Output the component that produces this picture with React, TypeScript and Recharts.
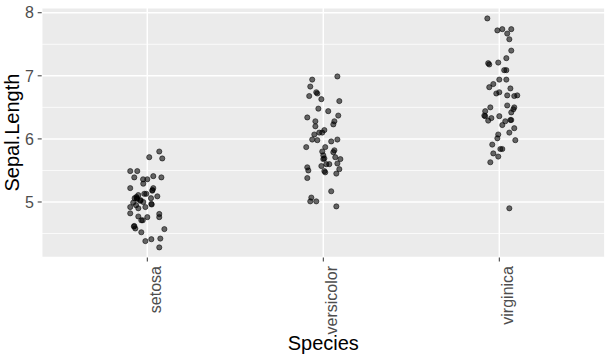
import { ScatterChart, Scatter, XAxis, YAxis, CartesianGrid, ReferenceLine, Label } from "recharts";

const species = ["setosa", "versicolor", "virginica"];
const yTicks = [5, 6, 7, 8];
const yMinor = [4.5, 5.5, 6.5, 7.5];

// horizontal jitter (fraction of a category) and Sepal.Length
const setosaJitter = [
  0.068, 0.011, 0.085, -0.097, -0.057, -0.074, 0.034, 0.08, -0.024, 0.0,
  -0.023, -0.097, 0.034, 0.028, -0.017, -0.006, -0.051, 0.057, -0.072, -0.06,
  -0.038, 0.021, -0.08, -0.023, 0.023, -0.064, -0.097, -0.051, -0.011, -0.097,
  0.068, 0.068, -0.051, 0.0, -0.034, -0.026, -0.076, -0.068, 0.097, -0.034,
  0.074, 0.023, -0.011, 0.068, -0.057, -0.074, 0.025, -0.04, -0.062, 0.03,
];
const setosaLength = [
  5.8, 5.71, 5.69, 5.49, 5.49, 5.39, 5.41, 5.39, 5.36, 5.36,
  5.29, 5.22, 5.22, 5.18, 5.13, 5.13, 5.11, 5.09, 5.06, 5.06,
  5.03, 5.06, 4.99, 5.0, 4.97, 4.95, 4.92, 4.9, 4.92, 4.82,
  4.81, 4.76, 4.77, 4.76, 4.71, 4.71, 4.61, 4.58, 4.57, 4.52,
  4.42, 4.41, 4.38, 4.28, 5.05, 4.62, 4.96, 5.02, 5.08, 5.19,
];

const versicolorJitter = [
  0.08, -0.063, -0.074, -0.04, -0.034, -0.08, -0.011, 0.091, -0.028, 0.028,
  0.085, -0.091, -0.045, 0.063, 0.057, -0.045, 0.006, -0.006, -0.023, -0.051,
  -0.063, -0.034, 0.045, 0.08, -0.097, 0.011, -0.006, 0.063, 0.057, 0.0,
  0.068, 0.006, 0.0, 0.097, 0.08, 0.017, 0.034, -0.011, -0.091, -0.085,
  0.091, 0.006, 0.011, 0.074, -0.091, 0.045, -0.068, -0.074, -0.04, 0.074,
];
const versicolorLength = [
  6.99, 6.94, 6.83, 6.74, 6.72, 6.68, 6.63, 6.6, 6.48, 6.44,
  6.37, 6.34, 6.28, 6.28, 6.23, 6.2, 6.14, 6.1, 6.1, 6.07,
  5.99, 5.98, 5.96, 5.99, 5.87, 5.87, 5.8, 5.82, 5.79, 5.74,
  5.71, 5.69, 5.68, 5.68, 5.61, 5.6, 5.6, 5.57, 5.55, 5.5,
  5.52, 5.49, 5.47, 5.45, 5.38, 5.17, 5.07, 5.01, 5.01, 4.93,
];

const virginicaJitter = [
  -0.068, -0.011, 0.017, 0.068, 0.045, 0.057, 0.068, 0.04, -0.006, -0.063,
  -0.057, 0.028, 0.0, 0.04, -0.034, -0.057, 0.063, -0.017, 0.0, 0.045,
  0.085, 0.102, 0.045, -0.051, 0.085, 0.08, 0.068, -0.08, -0.085, -0.08,
  0.0, -0.045, -0.063, 0.034, 0.063, 0.068, 0.017, 0.085, 0.057, -0.006,
  -0.011, 0.091, -0.04, -0.034, 0.006, 0.017, -0.006, -0.051, 0.057, 0.04,
];
const virginicaLength = [
  7.91, 7.72, 7.74, 7.74, 7.67, 7.58, 7.4, 7.28, 7.21, 7.2,
  7.18, 7.09, 6.94, 6.94, 6.87, 6.82, 6.8, 6.72, 6.74, 6.69,
  6.68, 6.69, 6.53, 6.5, 6.5, 6.47, 6.42, 6.44, 6.37, 6.36,
  6.36, 6.33, 6.29, 6.28, 6.3, 6.3, 6.22, 6.17, 6.1, 6.07,
  6.01, 5.98, 5.91, 5.77, 5.84, 5.84, 5.72, 5.63, 4.9, 7.09,
];

const groups = [
  { jitter: setosaJitter, length: setosaLength },
  { jitter: versicolorJitter, length: versicolorLength },
  { jitter: virginicaJitter, length: virginicaLength },
];

const points = groups.flatMap((g, i) =>
  g.length.map((v, j) => ({ x: i + 1 + g.jitter[j], y: v }))
);

const FONT = "'Liberation Sans', Arial, sans-serif";

function SpeciesTick({ x, y, payload }: any) {
  const label = species[Math.round(payload.value) - 1];
  const tx = x + 13.5;
  const ty = y + 4.5;
  return (
    <text
      x={tx}
      y={ty}
      transform={`rotate(-90, ${tx}, ${ty})`}
      textAnchor="end"
      fontSize={16}
      fontFamily={FONT}
      fill="#4D4D4D"
    >
      {label}
    </text>
  );
}

function Dot({ cx, cy }: any) {
  return (
    <circle cx={cx} cy={cy} r={2.6} fill="#000" fillOpacity={0.58} stroke="#000" strokeOpacity={0.75} strokeWidth={0.7} />
  );
}

export default function App() {
  return (
    <div style={{ position: "absolute", left: 0, top: 0, background: "#fff" }}>
      <ScatterChart width={612} height={357} margin={{ top: 7.7, right: 7.1, bottom: 0, left: 0 }}>
        <CartesianGrid stroke="#FFFFFF" strokeWidth={1.5} fill="#EBEBEB" fillOpacity={1} />
        {yMinor.map((v) => (
          <ReferenceLine key={v} y={v} stroke="#FFFFFF" strokeWidth={0.75} />
        ))}
        <XAxis
          type="number"
          dataKey="x"
          domain={[0.4, 3.6]}
          ticks={[1, 2, 3]}
          allowDataOverflow
          height={99.5}
          axisLine={false}
          tickSize={4}
          tickMargin={0}
          tickLine={{ stroke: "#333333", strokeWidth: 1 }}
          tick={<SpeciesTick />}
          interval={0}
        >
          <Label
            content={({ viewBox }: any) => (
              <text
                x={viewBox.x + viewBox.width / 2}
                y={350}
                textAnchor="middle"
                fontSize={20}
                fontFamily={FONT}
                fill="#000"
              >
                Species
              </text>
            )}
          />
        </XAxis>
        <YAxis
          type="number"
          dataKey="y"
          domain={[4.12, 8.08]}
          ticks={yTicks}
          allowDataOverflow
          width={41.7}
          axisLine={false}
          tickSize={4}
          tickMargin={3.7}
          tickLine={{ stroke: "#333333", strokeWidth: 1 }}
          tick={{ fontSize: 16, fontFamily: FONT, fill: "#4D4D4D" }}
          interval={0}
        >
          <Label
            content={({ viewBox }: any) => {
              const cx = 19;
              const cy = viewBox.y + viewBox.height / 2;
              return (
                <text
                  x={cx}
                  y={cy}
                  transform={`rotate(-90, ${cx}, ${cy})`}
                  textAnchor="middle"
                  fontSize={20}
                  fontFamily={FONT}
                  fill="#000"
                >
                  Sepal.Length
                </text>
              );
            }}
          />
        </YAxis>
        <Scatter data={points} shape={<Dot />} isAnimationActive={false} />
      </ScatterChart>
    </div>
  );
}
